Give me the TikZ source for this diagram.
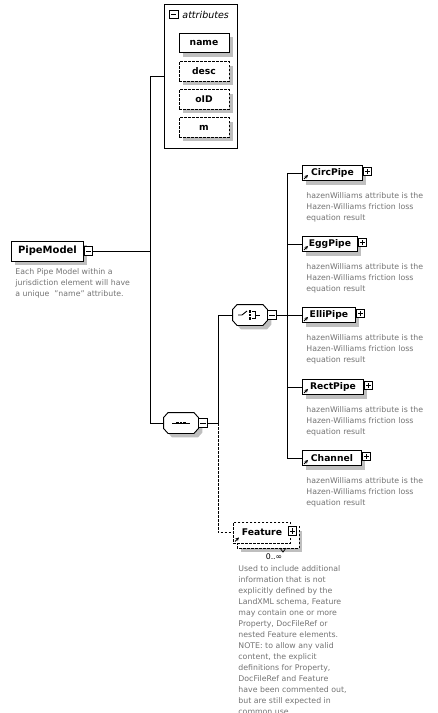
\documentclass[tikz,border=0pt]{standalone}
\usepackage{fontspec}
\setmainfont{DejaVu Sans}
\usetikzlibrary{shadows,arrows.meta}

\tikzset{
  box/.style={draw,fill=white,inner sep=0pt,anchor=west,minimum height=15pt,
    font=\bfseries\fontsize{9.2}{11}\selectfont},
  shade/.style={drop shadow={shadow xshift=4pt,shadow yshift=-4pt,fill=black!25,opacity=1}},
  elem/.style={box,shade},
  attr/.style={elem,anchor=center,minimum width=50pt,minimum height=19.5pt},
  opt/.style={dash pattern=on 2.5pt off 1.5pt},
  comp/.style={inner sep=0pt,minimum width=34pt,minimum height=20pt},
  collapse/.style={draw,fill=white,minimum size=8.5pt,inner sep=0pt,anchor=west,
    path picture={\draw ([xshift=1.5pt]path picture bounding box.west)
      -- ([xshift=-1.5pt]path picture bounding box.east);}},
  expand/.style={draw,fill=white,minimum size=8.5pt,inner sep=0pt,anchor=west,
    path picture={\draw ([xshift=1.5pt]path picture bounding box.west)
      -- ([xshift=-1.5pt]path picture bounding box.east)
      ([yshift=1.5pt]path picture bounding box.south)
      -- ([yshift=-1.5pt]path picture bounding box.north);}},
  note/.style={anchor=north west,align=left,inner sep=0pt,text=black!55,
    font=\fontsize{7.8}{11}\selectfont},
  ref/.style={-{Stealth[length=3.5pt,width=3.5pt]},line width=1pt}
}

% octagon frame round a compositor node
\newcommand\octa[1]{%
  \draw[fill=white,shade] ([xshift=4.5pt]#1.north west) -- ([xshift=-4.5pt]#1.north east)
    -- ([yshift=-5pt]#1.north east) -- ([yshift=5pt]#1.south east)
    -- ([xshift=-4.5pt]#1.south east) -- ([xshift=4.5pt]#1.south west)
    -- ([yshift=5pt]#1.south west) -- ([yshift=-5pt]#1.north west) -- cycle;}

\begin{document}
\begin{tikzpicture}[x=1pt,y=-1pt,line width=0.9pt]
  \useasboundingbox (0,0) rectangle (437,713);

  % root element
  \node[elem,minimum width=72pt,minimum height=20pt,font=\bfseries\fontsize{10}{12}\selectfont] (pm) at (11,251) {PipeModel};
  \node[collapse] (pmx) at (pm.east) {};
  \node[note] (pmd) at (15,268) {Each Pipe Model within a\\jurisdiction element will have\\a unique \ "name" attribute.};

  % attributes
  \node[draw,fill=white,anchor=north west,minimum width=73pt,minimum height=144pt,inner sep=0pt] (attrs) at (164,4) {};
  \node[collapse] (attrx) at (169,14.5) {};
  \node[anchor=west,inner sep=0pt,font=\itshape\fontsize{9.5}{11}\selectfont] (attrt) at (182,14.5) {attributes};
  \node[attr] (a-name) at (204,43) {name};
  \foreach \nm/\txt/\yy in {desc/desc/71.5, oid/oID/99.5, m/m/127.5}
    \node[attr,opt] (a-\nm) at (204,\yy) {\txt};

  % compositors
  \node[comp] (seq) at (181,423) {};
  \octa{seq}
  \draw ([xshift=-9pt]seq.center) -- ([xshift=9pt]seq.center);
  \foreach \dx in {-3.5,0,3.5}
    \fill ([xshift=\dx pt]seq.center) +(-1.4pt,-1.4pt) rectangle +(1.4pt,1.4pt);
  \node[collapse] (seqx) at (seq.east) {};

  \node[comp] (ch) at (250,315) {};
  \octa{ch}
  \draw ([xshift=-12pt]ch.center) -- ([xshift=-8pt]ch.center) -- ([shift={(-3pt,4pt)}]ch.center);
  \foreach \dy in {-3.5,0,3.5}
    \fill ([yshift=\dy pt]ch.center) +(-1.3pt,-1.3pt) rectangle +(1.3pt,1.3pt);
  \draw ([shift={(2pt,3.5pt)}]ch.center) -- ([shift={(5.5pt,3.5pt)}]ch.center)
    -- ([shift={(5.5pt,-3.5pt)}]ch.center) -- ([shift={(2pt,-3.5pt)}]ch.center)
    ([xshift=5.5pt]ch.center) -- ([xshift=10pt]ch.center);
  \node[collapse] (chx) at (ch.east) {};

  \coordinate (rbus) at (150,0);
  \coordinate (sbus) at (218,0);
  \coordinate (cbus) at (287,0);

  % choice members
  \foreach \nm/\txt/\w/\yy in {circ/CircPipe/60/173, egg/EggPipe/55/244,
      elli/ElliPipe/53/315, rect/RectPipe/61/387, chan/Channel/59/458} {
    \node[elem,minimum width=\w pt] (\nm) at (302,\yy) {\txt};
    \node[expand] (\nm-x) at ([yshift=1.5pt]\nm.east) {};
    \draw[ref] ([shift={(2pt,2pt)}]\nm.south west) -- ++(4pt,4pt);
    \node[note] (\nm-d) at (306,\yy+19) {hazenWilliams attribute is the\\Hazen-Williams friction loss\\equation result};
    \draw (\nm.west) -- (\nm.west -| cbus);
  }

  % optional repeated element
  \fill[black!25] (241,531) rectangle (302,552);
  \draw[opt,fill=white] (237,526) rectangle (299,548);
  \draw[line width=0.7pt] (280,548) -- (283,552) -- (286,548);
  \node[box,opt,minimum width=57pt,minimum height=21pt] (feat) at (233,532.5) {Feature};
  \node[expand] (feat-x) at ([shift={(-3pt,1.5pt)}]feat.east) {};
  \draw[ref] ([shift={(2pt,2pt)}]feat.south west) -- ++(4pt,4pt);
  \node[inner sep=0pt,font=\fontsize{7.8}{11}\selectfont] (featm) at (274,557) {0..∞};
  \node[note] (feat-d) at (238,565) {Used to include additional\\information that is not\\explicitly defined by the\\LandXML schema, Feature\\may contain one or more\\Property, DocFileRef or\\nested Feature elements.\\NOTE: to allow any valid\\content, the explicit\\definitions for Property,\\DocFileRef and Feature\\have been commented out,\\but are still expected in\\common use.};

  % connectors
  \draw (pmx.east) -- (pmx.east -| rbus);
  \draw (attrs.west) -| (rbus |- seq.west) -- (seq.west);
  \draw (seqx.east) -| (sbus |- ch.west) -- (ch.west);
  \draw[opt] (sbus |- seqx.east) |- (feat.west);
  \draw (chx.east) -- (chx.east -| cbus);
  \draw (circ.west -| cbus) -- (chan.west -| cbus);
\end{tikzpicture}
\end{document}
